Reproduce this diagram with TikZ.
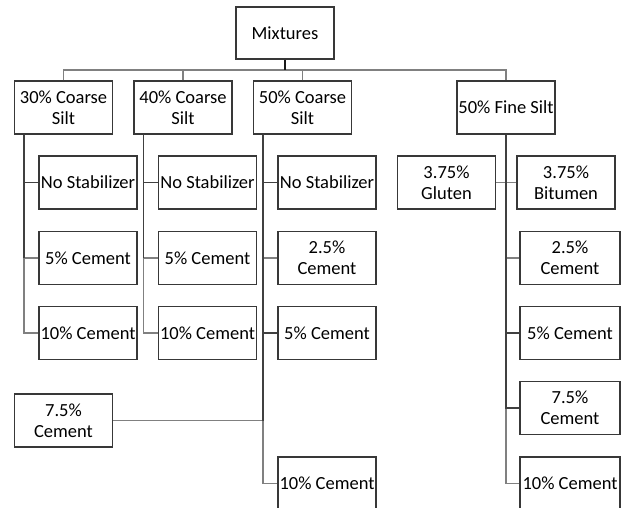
\documentclass[tikz,border=0pt]{standalone}
\usepackage{fontspec}
\setmainfont{Carlito}
\begin{document}
\begin{tikzpicture}[x=1pt, y=-1pt,
    box/.style={draw=black!78, line width=1.3pt, fill=white, minimum width=98pt, minimum height=53pt,
        inner sep=0pt, align=center, font=\fontsize{18.5}{21}\selectfont},
    trunk/.style={draw=black!90, line width=2.4pt},
    link/.style={draw=black!75, line width=1.6pt},
    thinlink/.style={draw=black!50, line width=1.6pt}]
\useasboundingbox (0,0) rectangle (621,508);
\clip (0,0) rectangle (621,508);

% top
\node[box, minimum height=52pt] (mix) at (285,33) {Mixtures};
\coordinate (bus) at (285,70);

% coarse silt, 30 and 40
\foreach \n/\x in {30/63.5,40/183}
{
    \node[box] (c\n) at (\x,107.5) {\n\% Coarse\\Silt};
    \node[box] (ns\n) at (\x+24.5,182.5) {No Stabilizer};
    \node[box] (five\n) at (\x+24.5,258) {5\% Cement};
    \node[box] (ten\n) at (\x+24.5,333) {10\% Cement};
    \coordinate (s\n) at ([xshift=-39.5pt]c\n.south);
    \draw[thinlink] (s\n) |- (ten\n.west);
    \draw[thinlink] (s\n) |- (five\n.west);
    \draw[link] (s\n) |- (ns\n.west);
    \draw[link] (s\n) -- (s\n |- five\n.west);
}

% coarse silt, 50
\node[box] (c50) at (302.5,107.5) {50\% Coarse\\Silt};
\node[box] (ns50) at (327,182.5) {No Stabilizer};
\node[box] (tf50) at (327,258) {2.5\%\\Cement};
\node[box] (five50) at (327,333) {5\% Cement};
\node[box] (sf50) at (63.5,420.5) {7.5\%\\Cement};
\node[box] (ten50) at (327,483.5) {10\% Cement};
\coordinate (s50) at ([xshift=-39.5pt]c50.south);
\draw[thinlink] (s50) |- (ten50.west);
\draw[thinlink] (sf50.east) -- (sf50.east -| s50);
\draw[thinlink] (s50) |- (tf50.west);
\draw[link] (s50) |- (ns50.west);
\draw[link] (s50) |- (five50.west);
\draw[link] (s50) -- (s50 |- sf50.east);

% fine silt
\node[box] (f50) at (506,107.5) {50\% Fine Silt};
\node[box] (glu) at (446.5,182.5) {3.75\%\\Gluten};
\node[box] (bit) at (566,182.5) {3.75\%\\Bitumen};
\node[box, minimum width=100pt] (tff) at (570,258) {2.5\%\\Cement};
\node[box, minimum width=100pt] (fivef) at (570,333) {5\% Cement};
\node[box, minimum width=100pt] (sff) at (570,408) {7.5\%\\Cement};
\node[box, minimum width=100pt] (tenf) at (570,483.5) {10\% Cement};
\coordinate (sf) at (f50.south);
\draw[thinlink] (sf) |- (tenf.west);
\draw[thinlink] (sf) |- (tff.west);
\draw[thinlink] (glu.east) -- (bit.west);
\draw[link] (sf) |- (fivef.west);
\draw[link] (sf) |- (sff.west);

% bus
\draw[thinlink] (c30.north) -- (c30.north |- bus) -| (f50.north);
\draw[thinlink] (c40.north) -- (c40.north |- bus);
\draw[thinlink] (c50.north) -- (c50.north |- bus);
\draw[trunk] (mix.south) -- (bus);

\end{tikzpicture}
\end{document}
